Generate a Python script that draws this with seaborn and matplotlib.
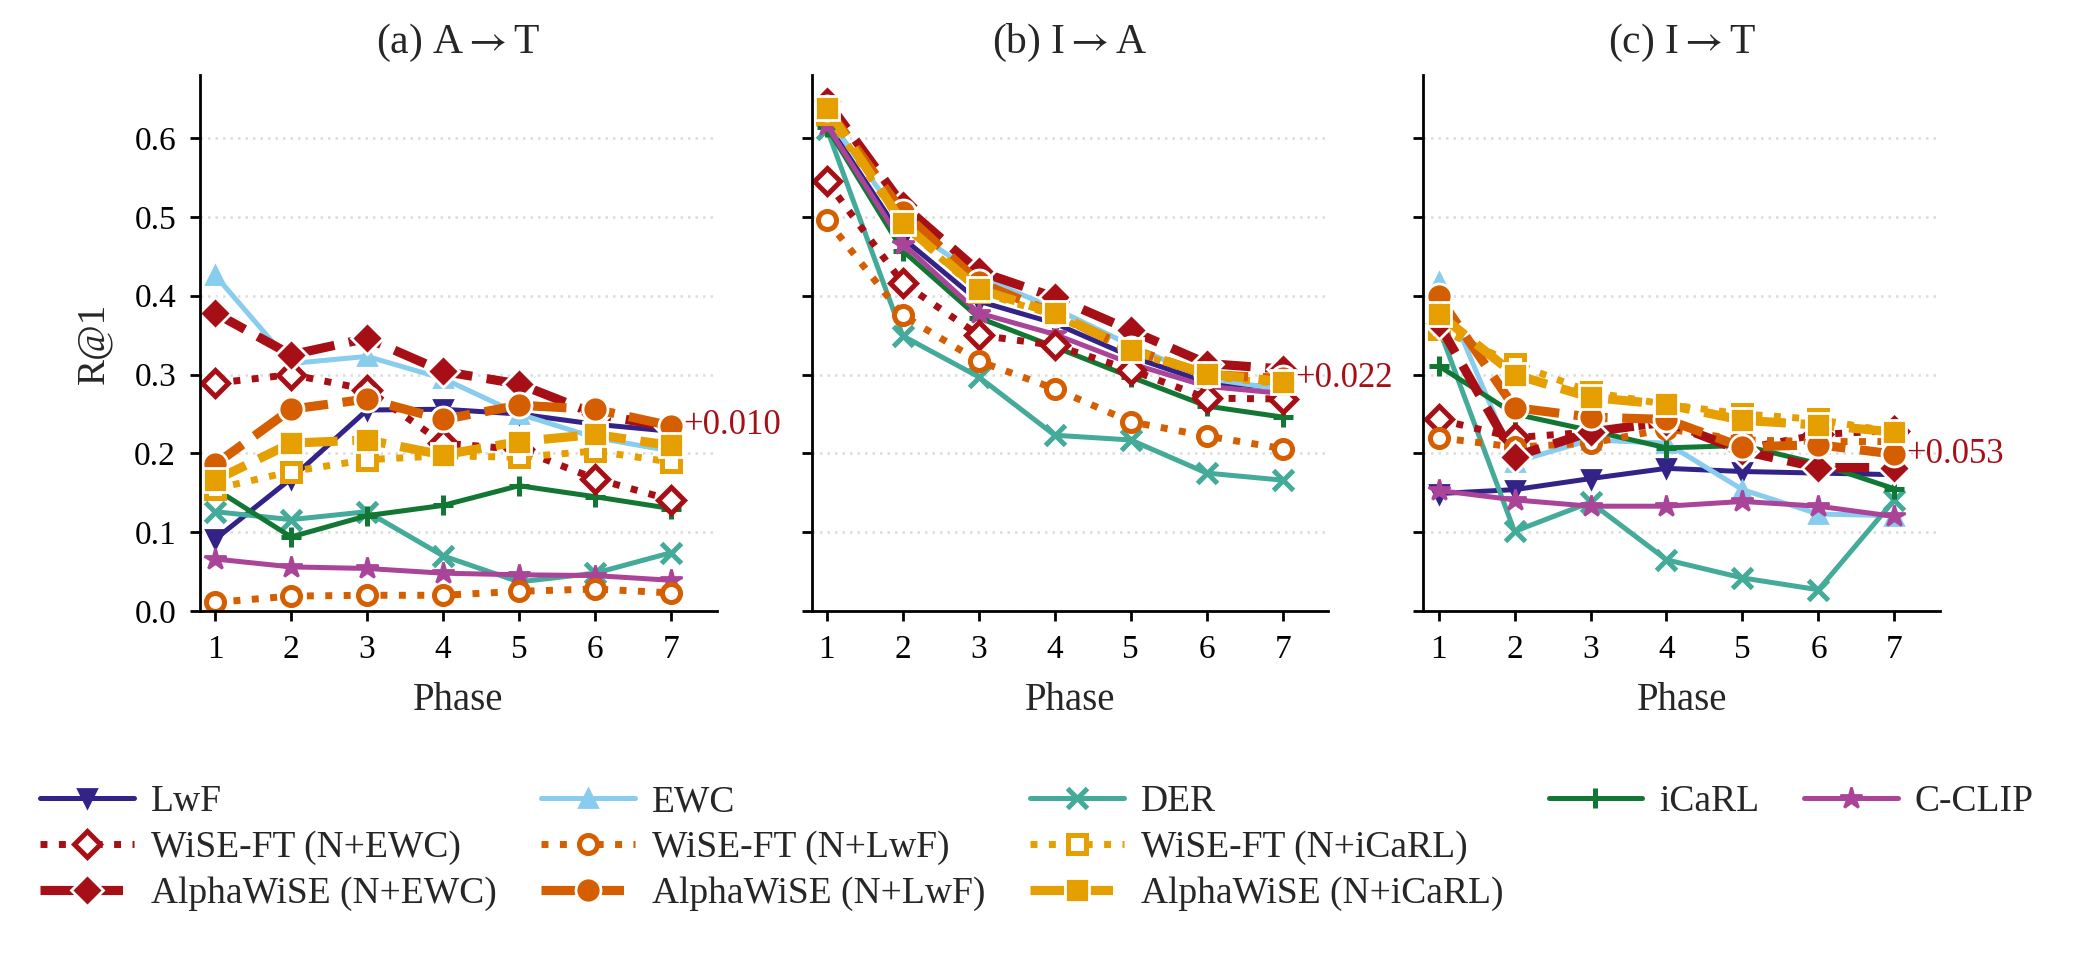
import numpy as np
import pandas as pd
import seaborn as sns
import matplotlib.pyplot as plt
from matplotlib.lines import Line2D

phases = [1, 2, 3, 4, 5, 6, 7]
panel_titles = [r"(a) A$\rightarrow$T", r"(b) I$\rightarrow$A", r"(c) I$\rightarrow$T"]
gains = ["+0.010", "+0.022", "+0.053"]

methods = ["LwF", "EWC", "DER", "iCaRL", "C-CLIP",
           "WiSE-FT (N+EWC)", "WiSE-FT (N+LwF)", "WiSE-FT (N+iCaRL)",
           "AlphaWiSE (N+EWC)", "AlphaWiSE (N+LwF)", "AlphaWiSE (N+iCaRL)"]

# R@1 per phase, one list per method, panel (a) A->T
a_lwf = [0.091, 0.168, 0.255, 0.256, 0.250, 0.237, 0.228]
a_ewc = [0.426, 0.314, 0.323, 0.295, 0.250, 0.220, 0.203]
a_der = [0.126, 0.116, 0.126, 0.070, 0.037, 0.048, 0.074]
a_icarl = [0.155, 0.094, 0.121, 0.134, 0.159, 0.145, 0.130]
a_cclip = [0.066, 0.056, 0.054, 0.048, 0.046, 0.045, 0.039]
a_wise_ewc = [0.289, 0.300, 0.281, 0.213, 0.205, 0.168, 0.141]
a_wise_lwf = [0.011, 0.019, 0.020, 0.020, 0.025, 0.028, 0.023]
a_wise_icarl = [0.155, 0.177, 0.192, 0.197, 0.195, 0.203, 0.189]
a_alpha_ewc = [0.378, 0.325, 0.346, 0.304, 0.288, 0.250, 0.233]
a_alpha_lwf = [0.186, 0.256, 0.269, 0.243, 0.261, 0.256, 0.235]
a_alpha_icarl = [0.166, 0.213, 0.217, 0.198, 0.215, 0.224, 0.210]

# panel (b) I->A
b_lwf = [0.619, 0.473, 0.393, 0.365, 0.323, 0.290, 0.283]
b_ewc = [0.628, 0.492, 0.424, 0.384, 0.337, 0.295, 0.281]
b_der = [0.612, 0.349, 0.297, 0.223, 0.217, 0.175, 0.166]
b_icarl = [0.614, 0.457, 0.372, 0.335, 0.297, 0.260, 0.246]
b_cclip = [0.616, 0.466, 0.378, 0.351, 0.314, 0.285, 0.276]
b_wise_ewc = [0.545, 0.416, 0.350, 0.337, 0.306, 0.270, 0.269]
b_wise_lwf = [0.496, 0.375, 0.317, 0.282, 0.240, 0.222, 0.206]
b_wise_icarl = [0.630, 0.490, 0.405, 0.375, 0.330, 0.298, 0.288]
b_alpha_ewc = [0.647, 0.515, 0.431, 0.398, 0.356, 0.314, 0.307]
b_alpha_lwf = [0.638, 0.506, 0.417, 0.377, 0.332, 0.300, 0.295]
b_alpha_icarl = [0.638, 0.492, 0.408, 0.378, 0.331, 0.301, 0.291]

# panel (c) I->T
c_lwf = [0.149, 0.154, 0.168, 0.181, 0.177, 0.175, 0.173]
c_ewc = [0.417, 0.189, 0.217, 0.213, 0.154, 0.123, 0.121]
c_der = [0.360, 0.101, 0.138, 0.065, 0.042, 0.027, 0.141]
c_icarl = [0.311, 0.250, 0.229, 0.207, 0.210, 0.187, 0.155]
c_cclip = [0.153, 0.141, 0.133, 0.133, 0.139, 0.133, 0.120]
c_wise_ewc = [0.243, 0.220, 0.227, 0.238, 0.206, 0.224, 0.229]
c_wise_lwf = [0.220, 0.208, 0.213, 0.231, 0.217, 0.215, 0.215]
c_wise_icarl = [0.358, 0.314, 0.278, 0.262, 0.250, 0.243, 0.227]
c_alpha_ewc = [0.365, 0.196, 0.227, 0.240, 0.203, 0.182, 0.182]
c_alpha_lwf = [0.399, 0.258, 0.246, 0.243, 0.208, 0.211, 0.199]
c_alpha_icarl = [0.377, 0.300, 0.271, 0.262, 0.242, 0.236, 0.227]

panels = [
    [a_lwf, a_ewc, a_der, a_icarl, a_cclip, a_wise_ewc, a_wise_lwf, a_wise_icarl,
     a_alpha_ewc, a_alpha_lwf, a_alpha_icarl],
    [b_lwf, b_ewc, b_der, b_icarl, b_cclip, b_wise_ewc, b_wise_lwf, b_wise_icarl,
     b_alpha_ewc, b_alpha_lwf, b_alpha_icarl],
    [c_lwf, c_ewc, c_der, c_icarl, c_cclip, c_wise_ewc, c_wise_lwf, c_wise_icarl,
     c_alpha_ewc, c_alpha_lwf, c_alpha_icarl],
]

RED, ORANGE, GOLD = "#A50F15", "#D55E00", "#E69F00"


def base(c, m, ms=6.5, mew=1.0):
    return dict(color=c, marker=m, ls="-", lw=1.8, ms=ms, mfc=c, mec=c, mew=mew)


def wise(c, m, ms=6.5):
    return dict(color=c, marker=m, ls=":", lw=2.5, ms=ms, mfc="white", mec=c, mew=1.8)


def alpha(c, m, ms=9):
    return dict(color=c, marker=m, ls="--", lw=3.3, ms=ms, mfc=c, mec="white", mew=1.0)


styles = {
    "LwF": base("#332288", "v"),
    "EWC": base("#88CCEE", "^"),
    "DER": base("#44AA99", "x", ms=7, mew=1.8),
    "iCaRL": base("#117733", "+", ms=7.5, mew=1.8),
    "C-CLIP": base("#AA4499", "*", ms=8),
    "WiSE-FT (N+EWC)": wise(RED, "D", ms=6.5),
    "WiSE-FT (N+LwF)": wise(ORANGE, "o"),
    "WiSE-FT (N+iCaRL)": wise(GOLD, "s", ms=6.5),
    "AlphaWiSE (N+EWC)": alpha(RED, "D", ms=8),
    "AlphaWiSE (N+LwF)": alpha(ORANGE, "o"),
    "AlphaWiSE (N+iCaRL)": alpha(GOLD, "s", ms=8.5),
}

sns.set_theme(style="ticks")
plt.rcParams["font.family"] = ["Liberation Serif", "DejaVu Serif"]
plt.rcParams["mathtext.fontset"] = "stix"
plt.rcParams["axes.edgecolor"] = "black"
plt.rcParams["xtick.color"] = "black"
plt.rcParams["ytick.color"] = "black"

fig, axes = plt.subplots(1, 3, figsize=(10.37, 4.825), dpi=200, sharey=True)
fig.subplots_adjust(left=0.0964, right=0.9354, top=0.9223, bottom=0.3668, wspace=0.184)

for k, ax in enumerate(axes):
    for name, vals in zip(methods, panels[k]):
        sns.lineplot(x=phases, y=vals, ax=ax, label=name, **styles[name])
    ax.get_legend().remove()
    ax.set_xlim(0.8, 7.6)
    ax.set_ylim(0, 0.68)
    ax.set_xticks(phases)
    ax.set_yticks(np.arange(0, 0.61, 0.1))
    ax.yaxis.set_major_formatter(plt.FormatStrFormatter("%.1f"))
    ax.grid(axis="y", ls=(0, (1, 2)), color="#dcdcdc", lw=0.9)
    ax.set_axisbelow(True)
    ax.tick_params(length=3.6, width=1, pad=5, labelsize=12)
    for s in ("left", "bottom"):
        ax.spines[s].set_linewidth(1)
    sns.despine(ax=ax)
    ax.set_title(panel_titles[k], fontsize=15, pad=8)
    ax.set_xlabel("Phase", fontsize=14, labelpad=6)
    ax.text(phases[-1] + 0.16, panels[k][9][-1], gains[k], color=RED,
            fontsize=12.5, ha="left", va="center")

axes[0].set_ylabel("R@1", fontsize=14, labelpad=8)

h, l = axes[0].get_legend_handles_labels()
hmap = dict(zip(l, h))
blank = Line2D([], [], color="none")
order = ["LwF", "WiSE-FT (N+EWC)", "AlphaWiSE (N+EWC)",
         "EWC", "WiSE-FT (N+LwF)", "AlphaWiSE (N+LwF)",
         "DER", "WiSE-FT (N+iCaRL)", "AlphaWiSE (N+iCaRL)",
         "iCaRL", None, None,
         "C-CLIP", None, None]
handles = [hmap[n] if n else blank for n in order]
labels = [n if n else "" for n in order]
fig.legend(handles, labels, loc="upper center", bbox_to_anchor=(0.5, 0.222),
           ncol=5, frameon=False, fontsize=13.5, handlelength=2.5,
           handletextpad=0.45, columnspacing=1.2, labelspacing=0.3)

fig.savefig("out.png", dpi=200)
